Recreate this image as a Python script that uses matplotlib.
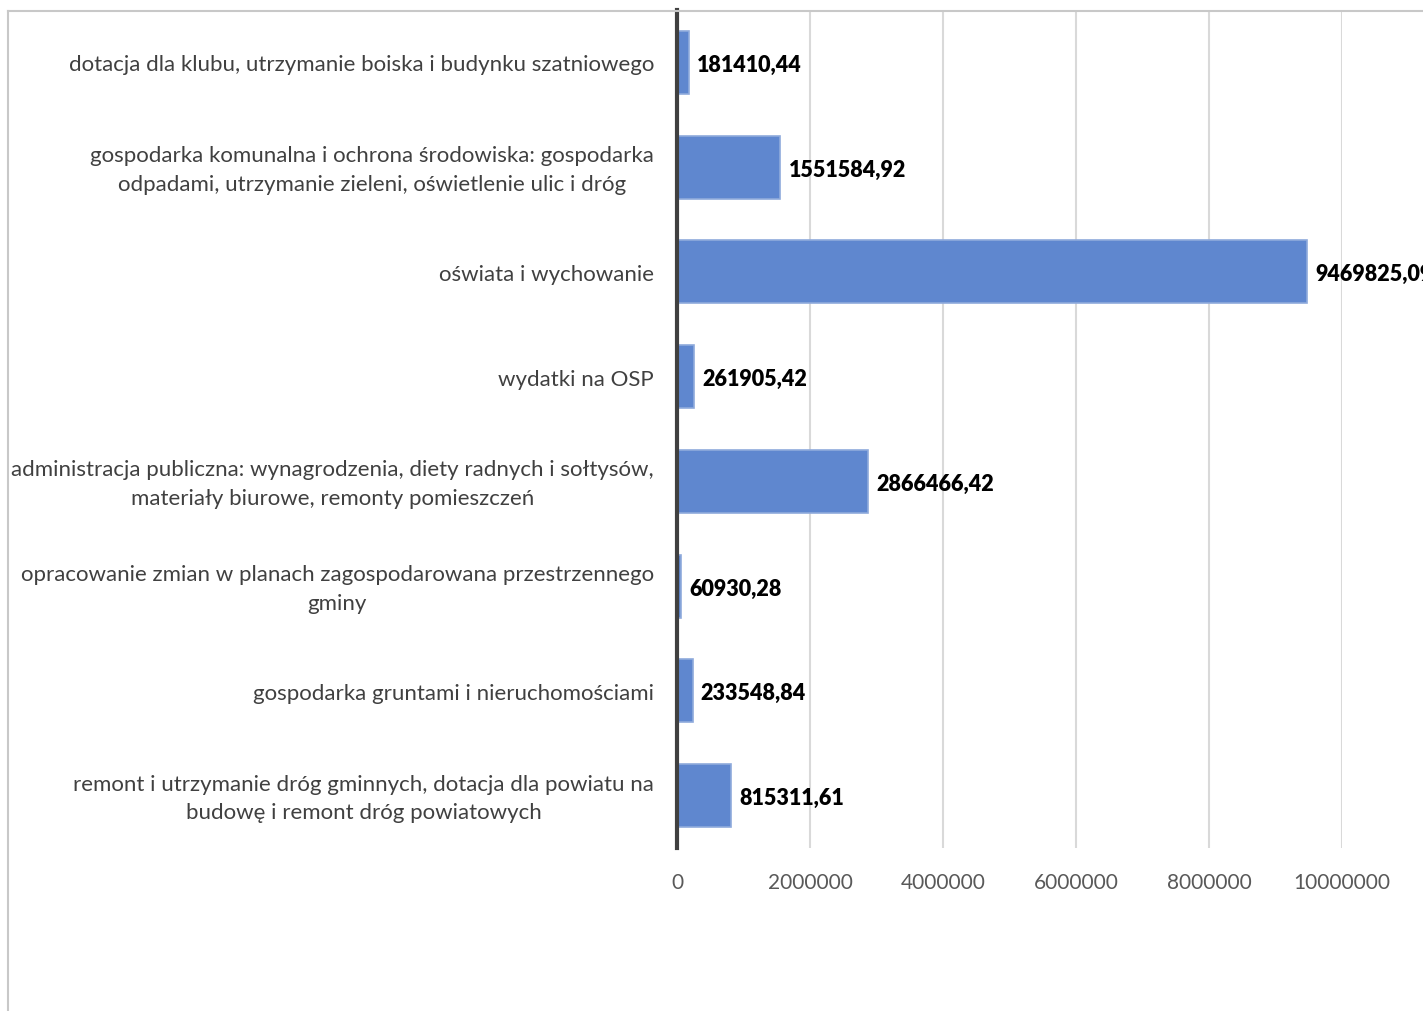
import matplotlib
matplotlib.use("Agg")
import matplotlib.pyplot as plt
from matplotlib.lines import Line2D
from matplotlib.transforms import ScaledTranslation

categories = [
    "dotacja dla klubu, utrzymanie boiska i budynku szatniowego",
    "gospodarka komunalna i ochrona środowiska: gospodarka\nodpadami, utrzymanie zieleni, oświetlenie ulic i dróg",
    "oświata i wychowanie",
    "wydatki na OSP",
    "administracja publiczna: wynagrodzenia, diety radnych i sołtysów,\nmateriały biurowe, remonty pomieszczeń",
    "opracowanie zmian w planach zagospodarowana przestrzennego\ngminy",
    "gospodarka gruntami i nieruchomościami",
    "remont i utrzymanie dróg gminnych, dotacja dla powiatu na\nbudowę i remont dróg powiatowych",
]
values = [181410.44, 1551584.92, 9469825.09, 261905.42, 2866466.42, 60930.28, 233548.84, 815311.61]
value_labels = ["181410,44", "1551584,92", "9469825,09", "261905,42", "2866466,42", "60930,28", "233548,84", "815311,61"]
xticks = [0, 2000000, 4000000, 6000000, 8000000, 10000000]
xtick_labels = ["0", "2000000", "4000000", "6000000", "8000000", "10000000"]

plt.rcParams['font.family'] = ['Lato', 'DejaVu Sans']

W, H = 1423, 1012
fig = plt.figure(figsize=(W / 100, H / 100), dpi=100)
ax = fig.add_axes([677 / W, 1 - 849 / H, (1342 - 677) / W, (849 - 11) / H])

n = len(categories)
ypos = list(range(n))
ax.barh(ypos, values, height=0.6, color='#5f87cf', edgecolor='#8faadc', linewidth=1.2, zorder=3)
ax.set_ylim(n - 0.5, -0.5)
ax.set_xlim(0, 10000000)
ax.set_xticks(xticks)
ax.set_xticklabels(xtick_labels, fontsize=15, color='#595959')
ax.set_yticks(ypos)
ax.set_yticklabels([])
ax.tick_params(axis='y', length=0)
ax.tick_params(axis='x', length=0, pad=17)
ax.grid(axis='x', color='#d9d9d9', linewidth=1.5, zorder=0)
for s in ['top', 'right', 'bottom']:
    ax.spines[s].set_visible(False)
ax.spines['left'].set_color('#404040')
ax.spines['left'].set_linewidth(3)
ax.spines['left'].set_zorder(4)

ytrans = ax.get_yaxis_transform()
for y, cat in zip(ypos, categories):
    dy = 4 / 100 if "\n" in cat else 0
    tr = ytrans + ScaledTranslation(-23 / 100, dy, fig.dpi_scale_trans)
    ax.text(0, y, cat, transform=tr, ha='right', va='center_baseline', multialignment='center',
            linespacing=1.55, fontsize=16, color='#404040', clip_on=False)

for y, v, lab in zip(ypos, values, value_labels):
    ax.annotate(lab, (v, y), xytext=(6, 0), textcoords='offset points', ha='left', va='center_baseline',
                fontsize=15.5, fontweight='heavy', color='black', annotation_clip=False)

# chart area border
fig.add_artist(Line2D([8 / W, 1], [1 - 12 / H, 1 - 12 / H], color='#c8c8c8', linewidth=1.5, transform=fig.transFigure))
fig.add_artist(Line2D([8 / W, 8 / W], [0, 1 - 12 / H], color='#c8c8c8', linewidth=1.5, transform=fig.transFigure))

fig.savefig("out.png", dpi=100, facecolor='white')
